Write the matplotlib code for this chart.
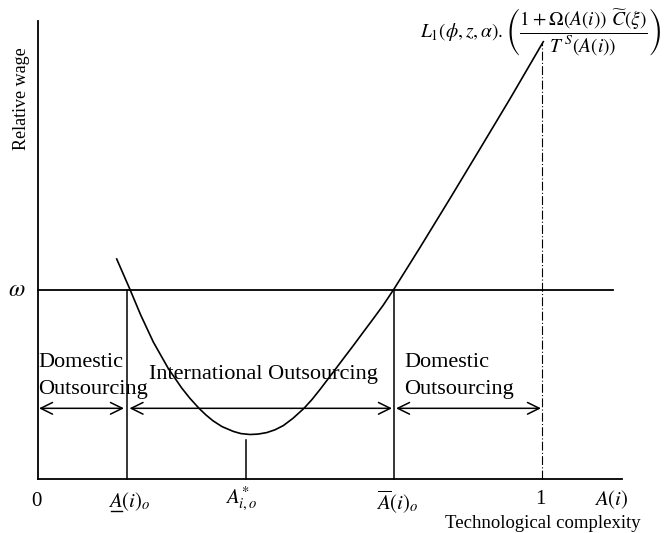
import numpy as np
import matplotlib
matplotlib.use("Agg")
import matplotlib.pyplot as plt

plt.rcParams['font.family'] = ['Liberation Serif', 'DejaVu Serif']
plt.rcParams['mathtext.fontset'] = 'stix'

# curve, in pixels of the 668x533 original
curve_px = [116.7, 130.0, 140.7, 153.3, 168.3, 181.7, 190.0, 199.0, 206.0, 213.0,
            222.0, 233.3, 241.0, 250.0, 258.0, 266.7, 275.0, 283.3, 293.0, 304.0,
            312.0, 320.0, 328.0, 336.7, 345.0, 353.0, 363.0, 373.3, 383.0, 394.0,
            405.0, 420.0, 450.0, 480.0, 510.0, 543.3]
curve_py = [259.0, 289.5, 315.0, 342.0, 368.5, 388.0, 398.4, 408.3, 415.0, 420.8,
            426.6, 431.4, 433.6, 434.5, 434.1, 432.6, 429.8, 425.6, 418.3, 408.3,
            399.5, 389.5, 379.0, 367.5, 356.5, 346.0, 332.5, 318.7, 305.5, 289.0,
            271.5, 247.5, 198.5, 148.8, 98.8, 41.7]
omega = 1.0
a_low = 0.177
a_star = 0.413
a_high = 0.706
a_one = 1.0
a_star_top = 0.206
top_y = 2.307
arrow_y = 0.374
regions = ["Domestic\nOutsourcing", "International Outsourcing", "Domestic\nOutsourcing"]

# pixel -> data (x: technological complexity A(i), y: relative wage with omega = 1)
def px(x):
    return (x - 37.5) / 504.5

def py(y):
    return (479 - y) / 189.0

curve_x = [px(v) for v in curve_px]
curve_y = [py(v) for v in curve_py]

fig = plt.figure(figsize=(6.68, 5.33), dpi=100)
ax = fig.add_axes([0, 0, 1, 1])
ax.set_xlim(px(0), px(668))
ax.set_ylim(py(533), py(0))
ax.axis('off')

k = 'black'
# axes
ax.plot([0, 0], [0, py(21)], color=k, lw=1.3)
ax.plot([0, px(622)], [0, 0], color=k, lw=1.3)
# omega line
ax.plot([0, px(613)], [omega, omega], color=k, lw=1.3)
# verticals
ax.plot([a_low, a_low], [0, omega], color=k, lw=1.1)
ax.plot([a_high, a_high], [0, omega], color=k, lw=1.1)
ax.plot([a_star, a_star], [0, a_star_top], color=k, lw=1.1)
ax.plot([a_one, a_one], [0, top_y], color=k, lw=0.8, linestyle=(0, (8, 2, 1, 2)))
# curve
ax.plot(curve_x, curve_y, color=k, lw=1.2, solid_joinstyle='round')

# arrows
spans = [(px(39), px(124)), (px(129.5), px(392)), (px(396), px(541))]
for x0, x1 in spans:
    ax.annotate('', xy=(x1, arrow_y), xytext=(x0, arrow_y),
                arrowprops=dict(arrowstyle='<->,head_length=0.85,head_width=0.42',
                                color=k, lw=1.1, shrinkA=0, shrinkB=0, mutation_scale=10))

fs = 16
ax.text(px(38), py(376), regions[0], fontsize=fs, ha='left', va='center', linespacing=1.6)
ax.text(px(149), py(375), regions[1], fontsize=fs, ha='left', va='center')
ax.text(px(404), py(376), regions[2], fontsize=fs, ha='left', va='center', linespacing=1.6)

# axis labels
ax.text(px(21.5), py(99), "Relative wage", fontsize=13, rotation=90, ha='center', va='center')
ax.text(px(543), py(523), "Technological complexity", fontsize=13.5, ha='center', va='center')
ax.text(px(17), omega, r"$\omega$", fontsize=17, ha='center', va='center', fontweight='bold')

# x tick labels
ax.text(-0.002, py(502), "0", fontsize=15, ha='center', va='center')
ax.text(a_low + 0.006, py(502), r"$A(i)_o$", fontsize=15, ha='center', va='center')
ax.plot([px(111), px(122)], [py(511), py(511)], color=k, lw=1.0)
ax.text(a_star - 0.010, py(499), r"$A^{*}_{i,o}$", fontsize=15, ha='center', va='center')
ax.text(a_high + 0.008, py(502), r"$\overline{A}(i)_o$", fontsize=15, ha='center', va='center')
ax.text(a_one - 0.004, py(500), "1", fontsize=15, ha='center', va='center')
ax.text(px(611), py(500), r"$A(i)$", fontsize=15, ha='center', va='center')

# formula
ax.text(px(420), py(32),
        r"$L_1(\phi,z,\alpha).\left(\dfrac{1+\Omega(A(i))\ \widetilde{C}(\xi)}{T^{\,S}(A(i))}\right)$",
        fontsize=14, ha='left', va='center')

fig.savefig("out.png", dpi=100)
